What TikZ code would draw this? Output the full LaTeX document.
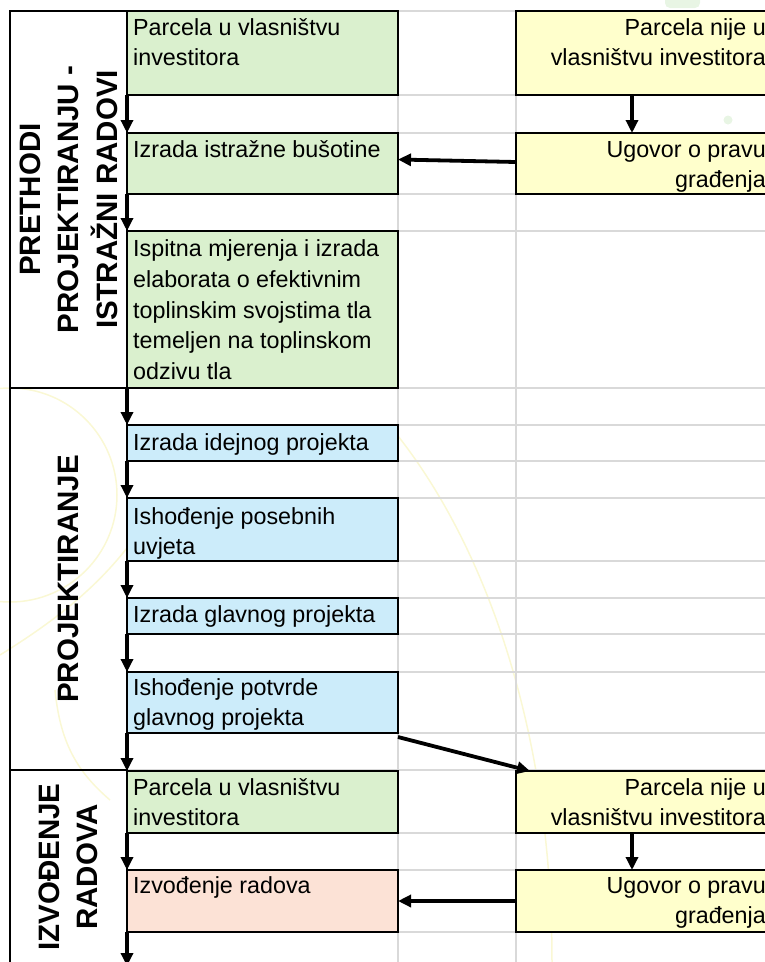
\documentclass[tikz,border=0pt]{standalone}
\usepackage{fontspec}
\setmainfont{Liberation Sans}
\usetikzlibrary{arrows.meta}
\definecolor{boxgreen}{RGB}{218,240,206}
\definecolor{boxblue}{RGB}{204,236,250}
\definecolor{boxyellow}{RGB}{255,255,204}
\definecolor{boxsalmon}{RGB}{252,226,214}
\definecolor{gridgray}{RGB}{217,217,217}
\definecolor{wmyellow}{RGB}{250,248,212}
\definecolor{wmgreen}{RGB}{232,245,228}

\begin{document}
\begin{tikzpicture}[x=1pt,y=1pt,yscale=-1,xscale=1,
        gridline/.style={draw=gridgray, line width=1.5},
        wm/.style={draw=wmyellow, line width=1.5},
        cell/.style={draw, line width=2, outer sep=0, anchor=north west, minimum width=271},
        txt/.style={inner sep=0, anchor=north west, align=left, font=\fontsize{23.3}{30.7}\selectfont},
        ytxt/.style={txt, anchor=north east, align=right},
        lane/.style={draw, line width=2, outer sep=0, rotate=90, minimum height=117, align=center, font=\fontsize{29.5}{38.5}\selectfont\bfseries},
        flow/.style={line width=3.8, -{Triangle[length=13pt,width=12pt]}}]
        \useasboundingbox (0,0) rectangle (765,962);
        \clip (0,0) rectangle (765,962);

        % watermark
        \draw [wm] (10,495) circle (107);
        \draw [wm] (0,655) .. controls (45,627) and (90,595) .. (127,548);
        \draw [wm] (55,690) .. controls (60,740) and (75,770) .. (110,800);
        \draw [wm] (398,436) .. controls (480,540) and (552,720) .. (552,962);
        \fill [wmgreen, rounded corners=5] (665,-10) rectangle (700,8);
        \fill [wmgreen] (728,120) circle (4.5);

        % grid
        \foreach \yy in {11,95,133,194,231,388,425,461,498,561,598,634,672,733,770,833,870,932}
            \draw [gridline] (127,\yy) -- (765,\yy);
        \foreach \xx in {398,516}
            \draw [gridline] (\xx,11) -- (\xx,962);

        % phases
        \node [lane, minimum width=377] (s1) at (68.5,199.5) {PRETHODI\\PROJEKTIRANJU -\\ISTRAŽNI RADOVI};
        \node [lane, minimum width=382] (s2) at (68.5,579) {PROJEKTIRANJE};
        \node [lane, minimum width=194] (s3) at (68.5,867) {IZVOĐENJE\\RADOVA};

        % main column
        \node [cell, fill=boxgreen, minimum height=84] (b1) at (127,11) {};
        \node [cell, fill=boxgreen, minimum height=61] (b2) at (127,133) {};
        \node [cell, fill=boxgreen, minimum height=157] (b3) at (127,231) {};
        \node [cell, fill=boxblue, minimum height=36] (b4) at (127,425) {};
        \node [cell, fill=boxblue, minimum height=63] (b5) at (127,498) {};
        \node [cell, fill=boxblue, minimum height=36] (b6) at (127,598) {};
        \node [cell, fill=boxblue, minimum height=61] (b7) at (127,672) {};
        \node [cell, fill=boxgreen, minimum height=62] (b8) at (127,771) {};
        \node [cell, fill=boxsalmon, minimum height=62] (b9) at (127,870) {};

        \node [txt] (t1) at (133,13.5) {\strut Parcela u vlasništvu\\investitora};
        \node [txt] (t2) at (133,135.5) {\strut Izrada istražne bušotine};
        \node [txt] (t3) at (133,235) {\strut Ispitna mjerenja i izrada\\elaborata o efektivnim\\toplinskim svojstima tla\\temeljen na toplinskom\\odzivu tla};
        \node [txt] (t4) at (133,428.5) {\strut Izrada idejnog projekta};
        \node [txt] (t5) at (133,502.5) {\strut Ishođenje posebnih\\uvjeta};
        \node [txt] (t6) at (133,600.5) {\strut Izrada glavnog projekta};
        \node [txt] (t7) at (133,673.5) {\strut Ishođenje potvrde\\glavnog projekta};
        \node [txt] (t8) at (133,773.5) {\strut Parcela u vlasništvu\\investitora};
        \node [txt] (t9) at (133,871.5) {\strut Izvođenje radova};

        % side column
        \node [cell, fill=boxyellow, minimum width=280, minimum height=84] (y1) at (516,11) {};
        \node [cell, fill=boxyellow, minimum width=280, minimum height=61] (y2) at (516,133) {};
        \node [cell, fill=boxyellow, minimum width=280, minimum height=62] (y3) at (516,771) {};
        \node [cell, fill=boxyellow, minimum width=280, minimum height=62] (y4) at (516,870) {};

        \node [ytxt] (u1) at (766,13.5) {\strut Parcela nije u\\vlasništvu investitora};
        \node [ytxt] (u2) at (766,135.5) {\strut Ugovor o pravu\\građenja};
        \node [ytxt] (u3) at (766,773.5) {\strut Parcela nije u\\vlasništvu investitora};
        \node [ytxt] (u4) at (766,871.5) {\strut Ugovor o pravu\\građenja};

        % arrows
        \draw [flow] (b1.south west) -- (b2.north west);
        \draw [flow] (b2.south west) -- (b3.north west);
        \draw [flow] (b3.south west) -- (b4.north west);
        \draw [flow] (b4.south west) -- (b5.north west);
        \draw [flow] (b5.south west) -- (b6.north west);
        \draw [flow] (b6.south west) -- (b7.north west);
        \draw [flow] (b7.south west) -- (b8.north west);
        \draw [flow] (b8.south west) -- (b9.north west);
        \coordinate (end) at (127,966);
        \draw [flow] (b9.south west) -- (end);

        \draw [flow] ([xshift=116]y1.south west) -- ([xshift=116]y2.north west);
        \draw [flow] ([yshift=-1.5]y2.west) -- ([yshift=-4]b2.east);
        \draw [flow] ([yshift=4]b7.south east) -- ([xshift=14]y3.north west);
        \draw [flow] ([xshift=116]y3.south west) -- ([xshift=116]y4.north west);
        \draw [flow] (y4.west) -- (b9.east);
\end{tikzpicture}
\end{document}
